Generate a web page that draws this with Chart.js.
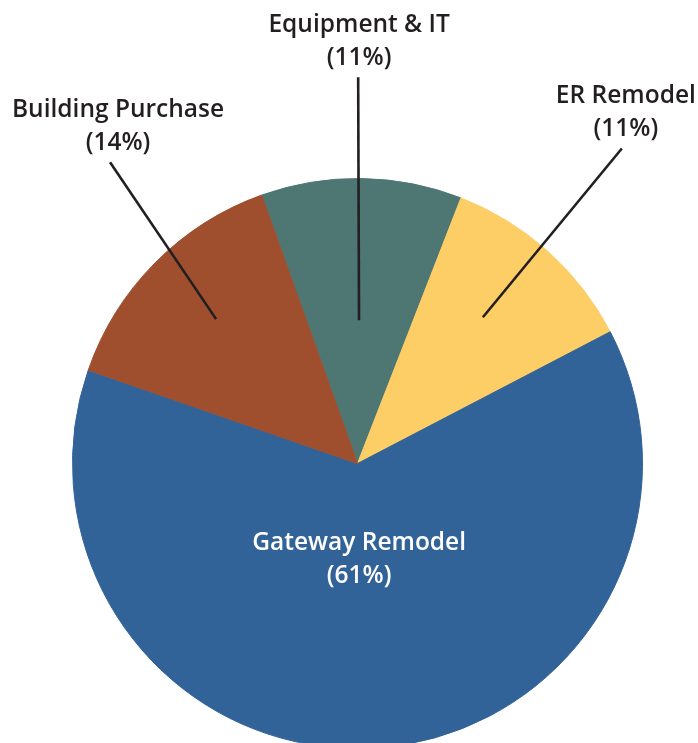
<!DOCTYPE html>
<html>
<head>
<meta charset="utf-8">
<script src="https://cdn.jsdelivr.net/npm/chart.js@4.4.1/dist/chart.umd.min.js"></script>
<style>
  html, body { margin: 0; padding: 0; background: #ffffff; overflow: hidden; }
  #wrap { width: 698px; height: 760px; position: relative; }
</style>
</head>
<body>
<div id="wrap"><canvas id="pieChart"></canvas></div>
<script>
const categories = ['Equipment & IT', 'ER Remodel', 'Gateway Remodel', 'Building Purchase'];
const shares = [11.37, 11.44, 62.96, 14.23];
const percentLabels = ['(11%)', '(11%)', '(61%)', '(14%)'];
const sliceColors = ['#4e7673', '#fdce66', '#316399', '#a04f2e'];

// where each label sits, relative to the slice (angle in degrees from top, fraction of radius)
const labelLayout = [
  { inner: [0.6, 0.503], outer: [0.1, 1.355], dx: 1, color: '#231f20', line: true },
  { inner: [40.6, 0.676], outer: [40.0, 1.443], dx: 4, color: '#231f20', line: true },
  { inner: null, outer: [179.0, 0.335], dx: 0, color: '#ffffff', line: false },
  { inner: [-44.4, 0.709], outer: [-39.4, 1.368], dx: 8, color: '#231f20', line: true }
];

const pieLabels = {
  id: 'pieLabels',
  afterDatasetsDraw(chart) {
    const ctx = chart.ctx;
    const arcs = chart.getDatasetMeta(0).data;
    ctx.save();
    ctx.font = '600 24.5px "Open Sans"';
    ctx.textAlign = 'center';
    ctx.textBaseline = 'middle';
    ctx.lineWidth = 2.6;
    ctx.strokeStyle = '#231f20';
    arcs.forEach((arc, i) => {
      const lay = labelLayout[i];
      const cx = arc.x, cy = arc.y, r = arc.outerRadius;
      const pt = (a, f) => {
        const rad = a * Math.PI / 180;
        return [cx + Math.sin(rad) * r * f, cy - Math.cos(rad) * r * f];
      };
      const o = pt(lay.outer[0], lay.outer[1]);
      ctx.fillStyle = lay.color;
      if (lay.line) {
        const p = pt(lay.inner[0], lay.inner[1]);
        ctx.beginPath();
        ctx.moveTo(p[0], p[1]);
        ctx.lineTo(o[0], o[1]);
        ctx.stroke();
        // two lines of text above the top end of the leader line
        ctx.fillText(categories[i], o[0] + lay.dx, o[1] - 52);
        ctx.fillText(percentLabels[i], o[0] + lay.dx, o[1] - 19);
      } else {
        ctx.fillText(categories[i], o[0] + lay.dx, o[1] - 16);
        ctx.fillText(percentLabels[i], o[0] + lay.dx, o[1] + 17);
      }
    });
    ctx.restore();
  }
};

new Chart(document.getElementById('pieChart'), {
  type: 'pie',
  data: {
    labels: categories,
    datasets: [{
      data: shares,
      backgroundColor: sliceColors,
      borderColor: sliceColors,
      borderWidth: 1
    }]
  },
  options: {
    responsive: true,
    maintainAspectRatio: false,
    animation: false,
    rotation: -19.65,
    layout: {
      padding: { top: 178, left: 72, right: 55, bottom: 11 }
    },
    plugins: {
      legend: { display: false },
      tooltip: { enabled: false }
    }
  },
  plugins: [pieLabels]
});
</script>
</body>
</html>
